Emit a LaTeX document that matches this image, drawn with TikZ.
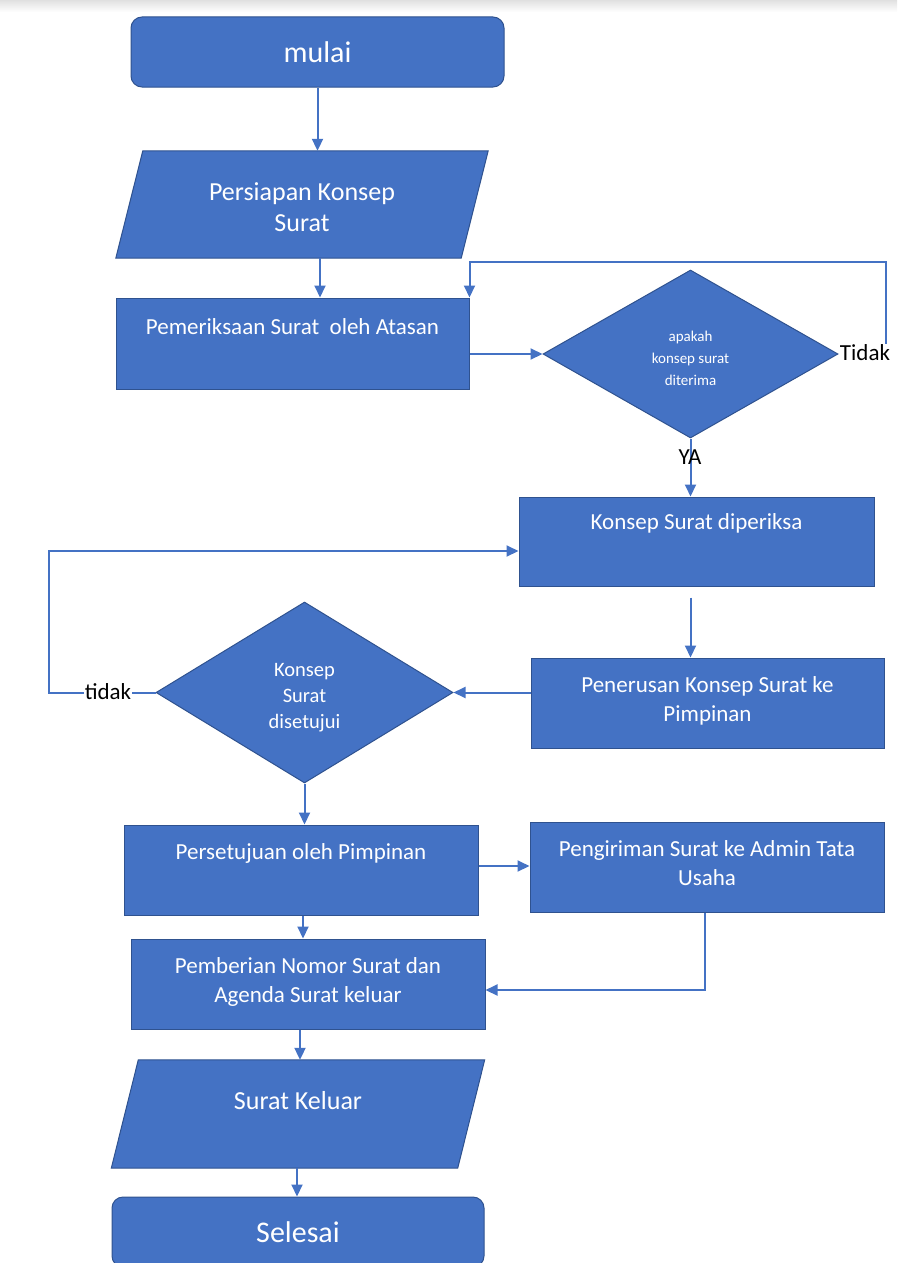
\documentclass[tikz,border=0pt]{standalone}
\usepackage{fontspec}
\setmainfont{Carlito}
\usetikzlibrary{shapes.geometric,arrows.meta}
\definecolor{boxblue}{HTML}{4472C4}
\definecolor{edgeblue}{HTML}{2F528F}
\tikzset{x=1pt,y=-1pt,
    box/.style={draw=edgeblue,line width=1pt,fill=boxblue,inner sep=0pt},
    proc/.style={box,rectangle},
    term/.style={box,rectangle,rounded corners=11pt},
    io/.style={rectangle,inner sep=0pt},
    decide/.style={box,diamond},
    txt/.style={text=white,align=center,inner sep=0pt},
    lbl/.style={text=black,fill=white,inner sep=1pt,font=\fontsize{23}{26}\selectfont},
    arrow/.style={draw=boxblue,line width=2pt,-{Triangle[length=12pt,width=11pt]}},
    }

\begin{document}
\begin{tikzpicture}
\clip (0,0) rectangle (897,1263);
\shade[top color=black!12,bottom color=white] (0,0) rectangle (897,12);
% shapes
\node[term,minimum width=373,minimum height=70] (mulai) at (317.5,52) {};
\node[io,minimum width=345,minimum height=107] (persiapan) at (302,204.5) {};
\node[proc,minimum width=353,minimum height=91] (periksa) at (292.5,343.5) {};
\node[decide,minimum width=295,minimum height=168] (d1) at (690.5,354) {};
\node[proc,minimum width=355,minimum height=89] (diperiksa) at (696.5,541.5) {};
\node[proc,minimum width=353,minimum height=90] (penerusan) at (707.5,703) {};
\node[decide,minimum width=297,minimum height=181] (d2) at (304.5,692.5) {};
\node[proc,minimum width=354,minimum height=90] (setuju) at (301,870) {};
\node[proc,minimum width=354,minimum height=90] (kirim) at (707,867) {};
\node[proc,minimum width=354,minimum height=90] (nomor) at (308,984) {};
\node[io,minimum width=346,minimum height=108] (keluar) at (298,1114) {};
\node[term,minimum width=372,minimum height=70] (selesai) at (298,1232) {};
% parallelograms
\foreach \p in {persiapan,keluar}
  \path[box] ([xshift=-13.5pt]\p.south west) -- ([xshift=13.5pt]\p.north west)
    -- ([xshift=13.5pt]\p.north east) -- ([xshift=-13.5pt]\p.south east) -- cycle;
% texts
{\fontsize{30}{34}\selectfont
\node[txt] at (mulai) {mulai};
\node[txt] at (selesai) {Selesai};
}
{\fontsize{26}{31}\selectfont
\node[txt] at (302,207.5) {Persiapan Konsep\\Surat};
\node[txt] at (298,1101) {Surat Keluar};
}
{\fontsize{23}{29}\selectfont
\node[txt] at (292.5,327) {Pemeriksaan Surat\ \ oleh Atasan};
\node[txt] at (696.5,523) {Konsep Surat diperiksa};
\node[txt] at (707.5,700.5) {Penerusan Konsep Surat ke\\Pimpinan};
\node[txt] at (301,853) {Persetujuan oleh Pimpinan};
\node[txt] at (707,863.5) {Pengiriman Surat ke Admin Tata\\Usaha};
\node[txt] at (308,981.5) {Pemberian Nomor Surat dan\\Agenda Surat keluar};
}
\node[txt,font=\fontsize{15}{22}\selectfont] at (690.5,358) {apakah\\konsep surat\\diterima};
\node[txt,font=\fontsize{20.5}{26}\selectfont] at (304.5,698) {Konsep\\Surat\\disetujui};
% connectors
\coordinate (r1) at (886,262);
\coordinate (l2) at (49,551);
\draw[arrow] (mulai) -- (persiapan.north -| mulai);
\draw[arrow] (persiapan.south -| 320,0) -- (periksa.north -| 320,0);
\draw[arrow] (d1.west -| periksa.east) -- (d1.west);
\draw[arrow] (d1.east) -| (r1) -| (periksa.north east);
\draw[arrow] (d1.south) -- (diperiksa.north -| d1.south);
\draw[arrow,shorten <=11pt] (diperiksa.south -| d1.south) -- (penerusan.north -| d1.south);
\draw[arrow] (d2.east -| penerusan.west) -- (d2.east);
\draw[arrow] (d2.west) -| (l2) -- (l2 -| diperiksa.west);
\draw[arrow] (d2.south) -- (setuju.north -| d2.south);
\draw[arrow] (setuju.east |- 0,866) -- (kirim.west |- 0,866);
\draw[arrow] (setuju.south -| 303,0) -- (nomor.north -| 303,0);
\draw[arrow] (kirim.south -| 705,0) |- (nomor.east |- 0,990);
\draw[arrow] (nomor.south -| 300,0) -- (keluar.north -| 300,0);
\draw[arrow] (keluar.south -| 297,0) -- (selesai.north -| 297,0);
% labels
\node[lbl] (tdk1) at (865,353) {Tidak};
\node[lbl] (tdk2) at (108,692) {tidak};
\node[lbl,fill=none] (ya) at (690,457) {YA};
\end{tikzpicture}
\end{document}
